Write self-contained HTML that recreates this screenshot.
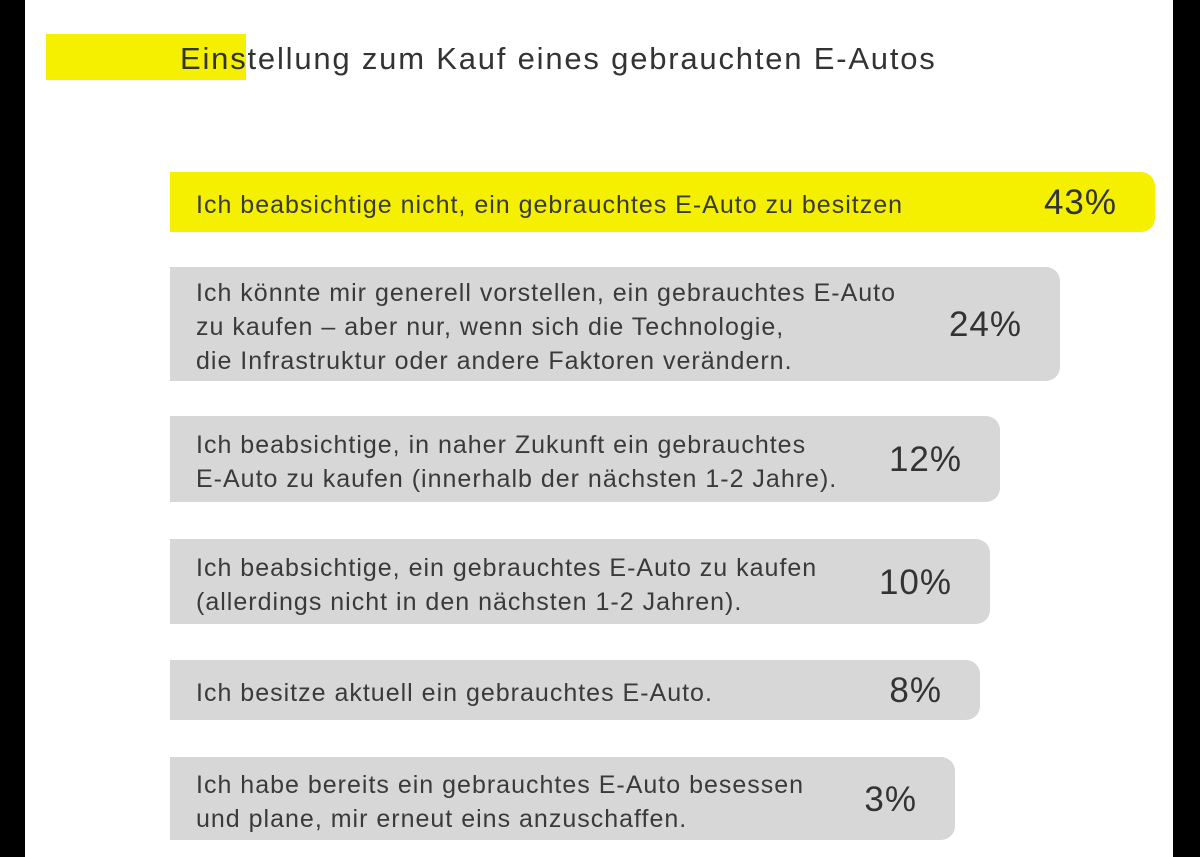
<!DOCTYPE html>
<html><head><meta charset="utf-8"><style>
body{margin:0;width:1200px;height:857px;background:#000;overflow:hidden;font-family:"Liberation Sans",sans-serif}
#page{position:absolute;left:25px;top:0;width:1148px;height:857px;background:#fff}
.bar{position:absolute;border-radius:0 14px 14px 0;background:#d7d7d7}
.lbl{position:absolute;color:#3a3a3a;font-size:25px;letter-spacing:1px;line-height:34px;white-space:nowrap}
.val{position:absolute;color:#333;font-size:35px;letter-spacing:1px;text-align:right;width:140px}
</style></head><body>
<div id="page"></div>
<div style="position:absolute;left:46px;top:34px;width:200px;height:46px;background:#f4f000"></div>
<div style="position:absolute;left:180px;top:41px;font-size:31px;letter-spacing:1.8px;color:#333">Einstellung zum Kauf eines gebrauchten E-Autos</div>
<div id="bars"></div>
<script>
const labels=[
"Ich beabsichtige nicht, ein gebrauchtes E-Auto zu besitzen",
"Ich könnte mir generell vorstellen, ein gebrauchtes E-Auto<br>zu kaufen – aber nur, wenn sich die Technologie,<br>die Infrastruktur oder andere Faktoren verändern.",
"Ich beabsichtige, in naher Zukunft ein gebrauchtes<br>E-Auto zu kaufen (innerhalb der nächsten 1-2 Jahre).",
"Ich beabsichtige, ein gebrauchtes E-Auto zu kaufen<br>(allerdings nicht in den nächsten 1-2 Jahren).",
"Ich besitze aktuell ein gebrauchtes E-Auto.",
"Ich habe bereits ein gebrauchtes E-Auto besessen<br>und plane, mir erneut eins anzuschaffen."];
const values=[43,24,12,10,8,3];
const tops=[172,267,416,539,660,757];
const heights=[60,114,86,85,60,83];
const x0=170;
function xEnd(v){return 940+5*v;}
const c=document.getElementById('bars');
values.forEach((v,i)=>{
 const b=document.createElement('div');b.className='bar';
 
 
 b.style.cssText=`left:${x0}px;top:${tops[i]}px;width:${xEnd(v)-x0}px;height:${heights[i]}px;`+(i==0?'background:#f4f000':'');
 c.appendChild(b);
 const l=document.createElement('div');l.className='lbl';
 
 
 l.innerHTML=labels[i];
 const n=labels[i].split('<br>').length;
 l.style.left='196px';l.style.top=(tops[i]+heights[i]/2-n*17+3)+'px';
 c.appendChild(l);
 const t=document.createElement('div');t.className='val';
 
 
 t.textContent=v+'%';
 t.style.left=(xEnd(v)-38-140)+'px';t.style.top=(tops[i]+heights[i]/2-19)+'px';
 c.appendChild(t);
});
</script>
</body></html>
